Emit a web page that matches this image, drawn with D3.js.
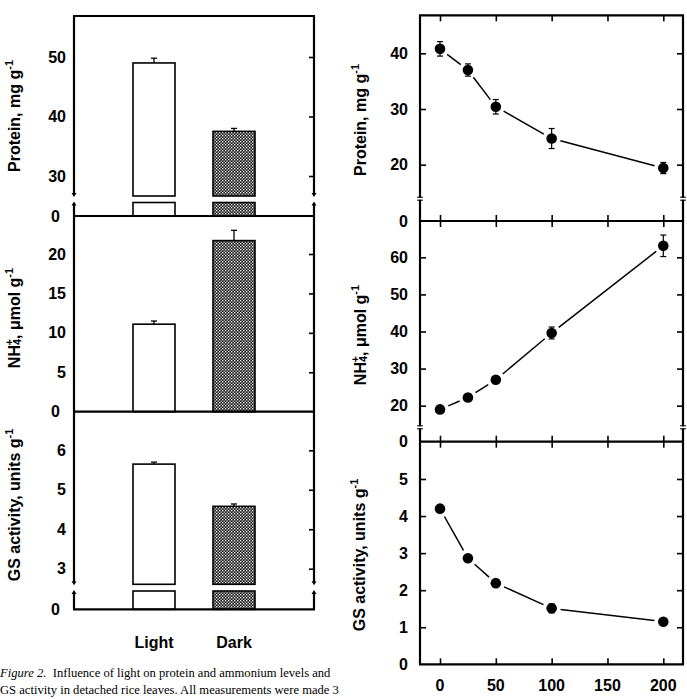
<!DOCTYPE html>
<html>
<head>
<meta charset="utf-8">
<script src="https://cdn.jsdelivr.net/npm/d3@7"></script>
<style>
  body { margin:0; background:#fff; }
  svg { display:block; }
  text { font-family: "Liberation Sans", Arial, sans-serif; font-weight:bold; fill:#000; }
  .caption { font-family: "Liberation Serif", "Times New Roman", serif; font-weight:normal; font-size:12.6px; }
</style>
</head>
<body>
<script>
// --- data ---
const treatments = ["Light", "Dark"];
const proteinBar = [49.0, 37.5];
const proteinBarErr = [0.8, 0.5];
const nh4Bar = [11.1, 21.7];
const nh4BarErr = [0.4, 1.3];
const gsBar = [5.65, 4.58];
const gsBarErr = [0.05, 0.06];

const doses = [0, 25, 50, 100, 200];
const doseTicks = [0, 50, 100, 150, 200];
const proteinPts = [40.8, 37.0, 30.4, 24.7, 19.4];
const proteinPtsErr = [1.3, 1.1, 1.3, 1.8, 1.0];
const nh4Pts = [19.0, 22.2, 27.0, 39.6, 63.1];
const nh4PtsErr = [0.5, 0.5, 0.5, 1.6, 2.9];
const gsPts = [4.2, 2.86, 2.19, 1.51, 1.15];
const gsPtsErr = [0.05, 0.05, 0.05, 0.12, 0.05];

const W = 687, H = 699;
const svg = d3.select('body').append('svg').attr('width', W).attr('height', H);
const fmt = d3.format('d');

const defs = svg.append('defs');
const pat = defs.append('pattern').attr('id', 'dots')
    .attr('patternUnits', 'userSpaceOnUse').attr('width', 3).attr('height', 3);
pat.append('rect').attr('width', 3).attr('height', 3).attr('fill', '#1a1a1a');
pat.append('rect').attr('x', 0).attr('y', 0).attr('width', 1.3).attr('height', 1.3).attr('fill', '#fff');
pat.append('rect').attr('x', 1.5).attr('y', 1.5).attr('width', 1.3).attr('height', 1.3).attr('fill', '#e8e8e8');

// ---------- left block: bars ----------
const L = { x0: 74, x1: 314 };
const xBand = d3.scaleBand().domain(treatments).range([L.x0, L.x1])
    .paddingInner(0.475).paddingOuter(0.7375);

const leftPanels = [
  { vals: proteinBar, err: proteinBarErr, top: 16, zeroY: 216,
    upper: d3.scaleLinear().domain([30, 50]).range([176, 57]), upperLow: 196,
    lowerTop: 202.5, ticks: [50, 40, 30], brk: true },
  { vals: nh4Bar, err: nh4BarErr, top: 216, zeroY: 411.7,
    upper: d3.scaleLinear().domain([0, 20]).range([411.7, 254]), upperLow: 411.7,
    ticks: [20, 15, 10, 5], brk: false },
  { vals: gsBar, err: gsBarErr, top: 411.7, zeroY: 609.3,
    upper: d3.scaleLinear().domain([3, 6]).range([568.7, 450.3]), upperLow: 584.3,
    lowerTop: 591, ticks: [6, 5, 4, 3], brk: true },
];

const left = svg.append('g');
leftPanels.forEach(p => {
  const g = left.append('g');
  // bars
  p.vals.forEach((v, i) => {
    const fill = i === 0 ? '#fff' : 'url(#dots)';
    const x = xBand(treatments[i]), w = xBand.bandwidth();
    const yv = p.upper(v);
    g.append('rect').attr('x', x).attr('y', yv).attr('width', w).attr('height', p.upperLow - yv)
      .attr('fill', fill).attr('stroke', '#000').attr('stroke-width', 1.6);
    if (p.brk) {
      g.append('rect').attr('x', x).attr('y', p.lowerTop).attr('width', w).attr('height', p.zeroY - p.lowerTop)
        .attr('fill', fill).attr('stroke', '#000').attr('stroke-width', 1.6);
    }
    // error bar
    const ye = p.upper(v + p.err[i]), cx = x + w / 2;
    g.append('line').attr('x1', cx).attr('x2', cx).attr('y1', yv).attr('y2', ye).attr('stroke', '#000').attr('stroke-width', 1.3);
    g.append('line').attr('x1', cx - 3).attr('x2', cx + 3).attr('y1', ye).attr('y2', ye).attr('stroke', '#000').attr('stroke-width', 1.3);
  });
  // inward ticks on the right side
  g.append('g').attr('transform', `translate(${L.x1},0)`)
    .call(d3.axisLeft(p.upper).tickValues(p.ticks).tickSize(5).tickFormat(''))
    .call(a => a.select('.domain').remove())
    .selectAll('line').attr('stroke-width', 1.6);
  // labels
  g.append('g').attr('transform', `translate(${L.x0},0)`)
    .call(d3.axisLeft(p.upper).tickValues(p.ticks).tickSize(0).tickPadding(8).tickFormat(fmt))
    .call(a => a.select('.domain').remove())
    .selectAll('text').style('font-size', '16px').style('font-family', '"Liberation Sans", Arial, sans-serif').style('font-weight', 'bold').attr('fill', '#000');
  g.append('text').attr('x', 60).attr('y', p.zeroY).attr('dy', '0.36em').attr('text-anchor', 'end')
    .style('font-size', '16px').text('0');
  // frame
  const fr = g.append('g').attr('stroke', '#000').attr('stroke-width', 2.2).attr('fill', 'none');
  fr.append('line').attr('x1', L.x0 - 1).attr('x2', L.x1 + 1).attr('y1', p.zeroY).attr('y2', p.zeroY);
  [L.x0, L.x1].forEach(x => {
    if (p.brk) {
      fr.append('line').attr('x1', x).attr('x2', x).attr('y1', p.top).attr('y2', p.upperLow - 2);
      fr.append('line').attr('x1', x).attr('x2', x).attr('y1', p.lowerTop + 2).attr('y2', p.zeroY);
      g.append('path').attr('d', `M${x - 2.5},${p.upperLow - 3}L${x + 2.5},${p.upperLow - 3}L${x},${p.upperLow + 1}Z`).attr('fill', '#000');
      g.append('path').attr('d', `M${x - 2.5},${p.lowerTop + 3}L${x + 2.5},${p.lowerTop + 3}L${x},${p.lowerTop - 1}Z`).attr('fill', '#000');
    } else {
      fr.append('line').attr('x1', x).attr('x2', x).attr('y1', p.top).attr('y2', p.zeroY);
    }
  });
});
left.append('line').attr('x1', L.x0 - 1).attr('x2', L.x1 + 1).attr('y1', 16).attr('y2', 16)
  .attr('stroke', '#000').attr('stroke-width', 2.2);

// category labels
treatments.forEach(t => {
  left.append('text').attr('x', xBand(t) + xBand.bandwidth() / 2).attr('y', 648)
    .attr('text-anchor', 'middle').style('font-size', '16px').text(t);
});

// ---------- right block: dose response ----------
const R = { x0: 420, x1: 683 };
const xDose = d3.scaleLinear().domain([0, 200]).range([440, 663.3]);

const rightPanels = [
  { vals: proteinPts, err: proteinPtsErr, top: 15.3, zeroY: 221,
    y: d3.scaleLinear().domain([20, 40]).range([164.7, 53.3]), ticks: [40, 30, 20], brkY: 198.7 },
  { vals: nh4Pts, err: nh4PtsErr, top: 221, zeroY: 441.7,
    y: d3.scaleLinear().domain([20, 60]).range([405.7, 257.3]), ticks: [60, 50, 40, 30, 20], brkY: 427.3 },
  { vals: gsPts, err: gsPtsErr, top: 441.7, zeroY: 664.3,
    y: d3.scaleLinear().domain([0, 5]).range([664.3, 479]), ticks: [5, 4, 3, 2, 1], brkY: null },
];

const right = svg.append('g');
rightPanels.forEach(p => {
  const g = right.append('g');
  // ticks: y inward both sides
  g.append('g').attr('transform', `translate(${R.x0},0)`)
    .call(d3.axisRight(p.y).tickValues(p.ticks).tickSize(6).tickFormat(''))
    .call(a => a.select('.domain').remove()).selectAll('line').attr('stroke-width', 1.6);
  g.append('g').attr('transform', `translate(${R.x1},0)`)
    .call(d3.axisLeft(p.y).tickValues(p.ticks).tickSize(6).tickFormat(''))
    .call(a => a.select('.domain').remove()).selectAll('line').attr('stroke-width', 1.6);
  // x ticks inward top and bottom
  g.append('g').attr('transform', `translate(0,${p.top})`)
    .call(d3.axisBottom(xDose).tickValues(doseTicks).tickSize(6).tickFormat(''))
    .call(a => a.select('.domain').remove()).selectAll('line').attr('stroke-width', 1.6);
  g.append('g').attr('transform', `translate(0,${p.zeroY})`)
    .call(d3.axisTop(xDose).tickValues(doseTicks).tickSize(6).tickFormat(''))
    .call(a => a.select('.domain').remove()).selectAll('line').attr('stroke-width', 1.6);
  // y labels
  g.append('g').attr('transform', `translate(${R.x0},0)`)
    .call(d3.axisLeft(p.y).tickValues(p.ticks).tickSize(0).tickPadding(12).tickFormat(fmt))
    .call(a => a.select('.domain').remove())
    .selectAll('text').style('font-size', '16px').style('font-family', '"Liberation Sans", Arial, sans-serif').style('font-weight', 'bold').attr('fill', '#000');
  g.append('text').attr('x', 408).attr('y', p.zeroY).attr('dy', '0.36em').attr('text-anchor', 'end')
    .style('font-size', '16px').text('0');
  // frame
  const fr = g.append('g').attr('stroke', '#000').attr('stroke-width', 2.2);
  fr.append('line').attr('x1', R.x0 - 1).attr('x2', R.x1 + 1).attr('y1', p.zeroY).attr('y2', p.zeroY);
  [R.x0, R.x1].forEach(x => {
    fr.append('line').attr('x1', x).attr('x2', x).attr('y1', p.top).attr('y2', p.zeroY);
    if (p.brkY) {
      g.append('rect').attr('x', x - 3).attr('y', p.brkY - 1).attr('width', 6).attr('height', 2).attr('fill', '#fff');
      g.append('line').attr('x1', x - 3).attr('x2', x + 3).attr('y1', p.brkY - 1.5).attr('y2', p.brkY - 1.5).attr('stroke', '#000').attr('stroke-width', 1);
      g.append('line').attr('x1', x - 3).attr('x2', x + 3).attr('y1', p.brkY + 1.5).attr('y2', p.brkY + 1.5).attr('stroke', '#000').attr('stroke-width', 1);
    }
  });
  // connecting line, broken near markers
  const pts = doses.map((d, i) => [xDose(d), p.y(p.vals[i])]);
  const gap = 9;
  for (let i = 0; i < pts.length - 1; i++) {
    const [ax, ay] = pts[i], [bx, by] = pts[i + 1];
    const len = Math.hypot(bx - ax, by - ay), ux = (bx - ax) / len, uy = (by - ay) / len;
    g.append('line').attr('x1', ax + ux * gap).attr('y1', ay + uy * gap)
      .attr('x2', bx - ux * gap).attr('y2', by - uy * gap)
      .attr('stroke', '#000').attr('stroke-width', 1.5);
  }
  // error bars and markers
  doses.forEach((d, i) => {
    const cx = xDose(d), y1 = p.y(p.vals[i] + p.err[i]), y2 = p.y(p.vals[i] - p.err[i]);
    g.append('line').attr('x1', cx).attr('x2', cx).attr('y1', y1).attr('y2', y2).attr('stroke', '#000').attr('stroke-width', 1.2);
    [y1, y2].forEach(yy => g.append('line').attr('x1', cx - 3).attr('x2', cx + 3).attr('y1', yy).attr('y2', yy).attr('stroke', '#000').attr('stroke-width', 1.2));
    g.append('circle').attr('cx', cx).attr('cy', p.y(p.vals[i])).attr('r', 5.3).attr('fill', '#000');
  });
});
right.append('line').attr('x1', R.x0 - 1).attr('x2', R.x1 + 1).attr('y1', 15.3).attr('y2', 15.3)
  .attr('stroke', '#000').attr('stroke-width', 2.2);
// x tick labels
doseTicks.forEach(d => {
  right.append('text').attr('x', xDose(d)).attr('y', 691).attr('text-anchor', 'middle')
    .style('font-size', '16px').text(d);
});

// ---------- axis titles ----------
function yTitle(x, y, parts) {
  const t = svg.append('text').attr('transform', `translate(${x},${y}) rotate(-90)`)
    .attr('text-anchor', 'middle').attr('dominant-baseline', 'central').style('font-size', '16px');
  parts.forEach(([s, shift, dx]) => {
    const ts = t.append('tspan').text(s);
    if (shift === 'sup') ts.attr('baseline-shift', '45%').style('font-size', '11px');
    if (shift === 'sub') ts.attr('baseline-shift', '-25%').style('font-size', '11px');
    if (dx) ts.attr('dx', dx);
  });
}
const proteinTitle = [['Protein, mg g'], ['-1', 'sup']];
const nh4Title = [['NH'], ['4', 'sub'], ['+', 'sup', -6.5], [', \u03bcmol g'], ['-1', 'sup']];
const gsTitle = [['GS activity, units g'], ['-1', 'sup']];
yTitle(14, 116, proteinTitle);
yTitle(14, 318, nh4Title);
yTitle(14, 505, gsTitle);
yTitle(360, 120, proteinTitle);
yTitle(360, 335, nh4Title);
yTitle(359, 555, gsTitle);

// ---------- caption ----------
const cap = svg.append('text').attr('class', 'caption').attr('x', 0).attr('y', 677);
cap.append('tspan').style('font-style', 'italic').text('Figure 2.');
cap.append('tspan').text('\u2002Influence of light on protein and ammonium levels and');
svg.append('text').attr('class', 'caption').attr('x', 0).attr('y', 694)
  .text('GS activity in detached rice leaves. All measurements were made 3');
</script>
</body>
</html>
